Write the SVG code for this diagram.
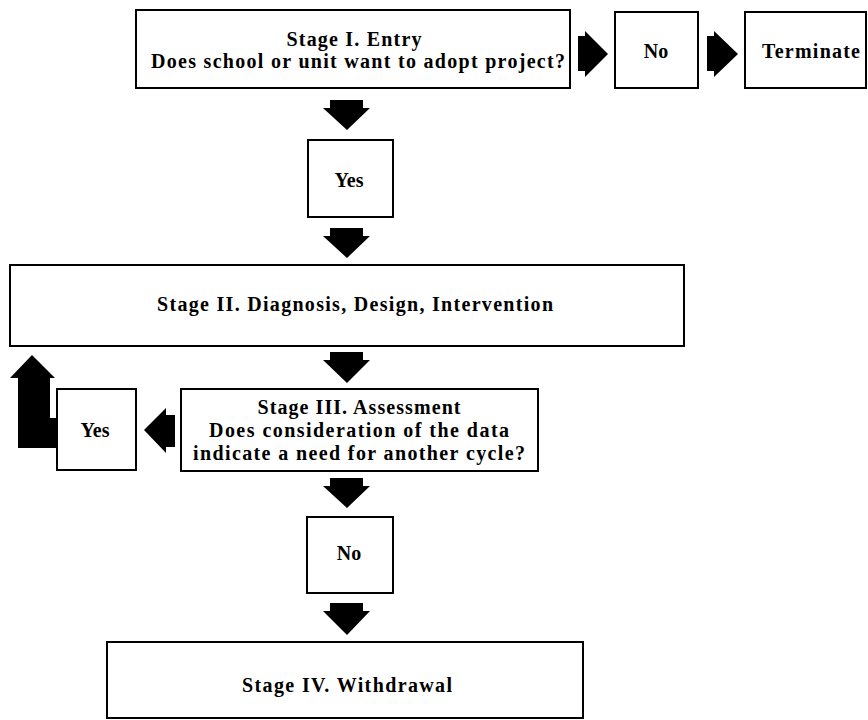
<svg xmlns="http://www.w3.org/2000/svg" width="868" height="720" viewBox="0 0 868 720">
<style>
.box{fill:#fff;stroke:#000;stroke-width:2}
.t{font-family:"Liberation Serif","Times New Roman",serif;font-size:20px;font-weight:bold;fill:#000;text-anchor:middle}
.arrow{fill:#000;stroke:none}
</style>
<rect width="868" height="720" fill="#fff"/>
<g id="connectors">
<polygon class="arrow" points="330,100 363,100 363,108 370,108 347,130 323,108 330,108"/>
<polygon class="arrow" points="330,228 363,228 363,236 370,236 347,258 323,236 330,236"/>
<polygon class="arrow" points="330,352 363,352 363,360 370,360 347,383 323,360 330,360"/>
<polygon class="arrow" points="330,478 363,478 363,486 370,486 347,508 323,486 330,486"/>
<polygon class="arrow" points="330,603 363,603 363,611 370,611 347,635 323,611 330,611"/>
<polygon class="arrow" points="578,36 585,36 585,31 608,54 585,77 585,71 578,71"/>
<polygon class="arrow" points="707,36 714,36 714,31 738,54 714,77 714,71 707,71"/>
<polygon class="arrow" points="175,415 166,415 166,408 144,430 166,453 166,447 175,447"/>
<polygon class="arrow" points="32,355 55,378 50,378 50,418 57,418 57,448 18,448 18,378 10,378"/>
</g>
<g id="stage1">
<rect class="box" x="136" y="10" width="434" height="78"/>
<text class="t" x="354" y="46" textLength="135">Stage I. Entry</text>
<text class="t" x="358" y="68" textLength="414">Does school or unit want to adopt project?</text>
</g>
<g id="no1">
<rect class="box" x="615" y="12" width="83" height="76"/>
<text class="t" x="656" y="58">No</text>
</g>
<g id="terminate">
<rect class="box" x="745" y="12" width="121" height="76"/>
<text class="t" x="811" y="58" textLength="98">Terminate</text>
</g>
<g id="yes1">
<rect class="box" x="308" y="140" width="85" height="77"/>
<text class="t" x="349" y="187">Yes</text>
</g>
<g id="stage2">
<rect class="box" x="10" y="265" width="674" height="81"/>
<text class="t" x="355" y="311" textLength="396">Stage II. Diagnosis, Design, Intervention</text>
</g>
<g id="yes2">
<rect class="box" x="57" y="389" width="79" height="81"/>
<text class="t" x="95" y="437">Yes</text>
</g>
<g id="stage3">
<rect class="box" x="181" y="389" width="357" height="82"/>
<text class="t" x="359" y="414" textLength="203">Stage III. Assessment</text>
<text class="t" x="359" y="437" textLength="300">Does consideration of the data</text>
<text class="t" x="359" y="460" textLength="332">indicate a need for another cycle?</text>
</g>
<g id="no2">
<rect class="box" x="307" y="517" width="86" height="76"/>
<text class="t" x="349" y="560">No</text>
</g>
<g id="stage4">
<rect class="box" x="107" y="642" width="476" height="76"/>
<text class="t" x="347" y="692" textLength="210">Stage IV. Withdrawal</text>
</g>
</svg>
